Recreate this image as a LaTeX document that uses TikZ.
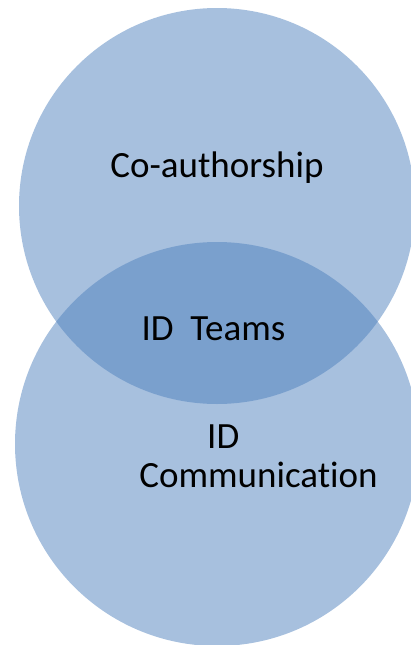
\documentclass[tikz,border=0pt]{standalone}
\usepackage{fontspec}
\setmainfont{Carlito}[Ligatures=NoCommon]
\definecolor{vennblue}{RGB}{79,129,189}

\begin{document}
\begin{tikzpicture}[x=1pt, y=-1pt,
    set/.style={fill=vennblue, fill opacity=0.5},
    lbl/.style={inner sep=0pt, anchor=base, font=\fontsize{37}{42}\selectfont}]

    \useasboundingbox (0, 0) rectangle (411, 645);
    \clip (0, 0) rectangle (411, 645);

    % the two sets, the overlap gets darker by itself
    \fill[set] (217, 206) circle (198pt);
    \fill[set] (217, 444) circle (202pt);

    \node[lbl] (coauth) at (217, 177) {Co-authorship};
    \node[lbl] (teams) at (213.5, 340) {ID~~Teams};
    \node[lbl, anchor=base west] (idword) at (207, 448) {ID};
    \node[lbl] (comm) at (258.5, 487) {Communication};

\end{tikzpicture}
\end{document}
